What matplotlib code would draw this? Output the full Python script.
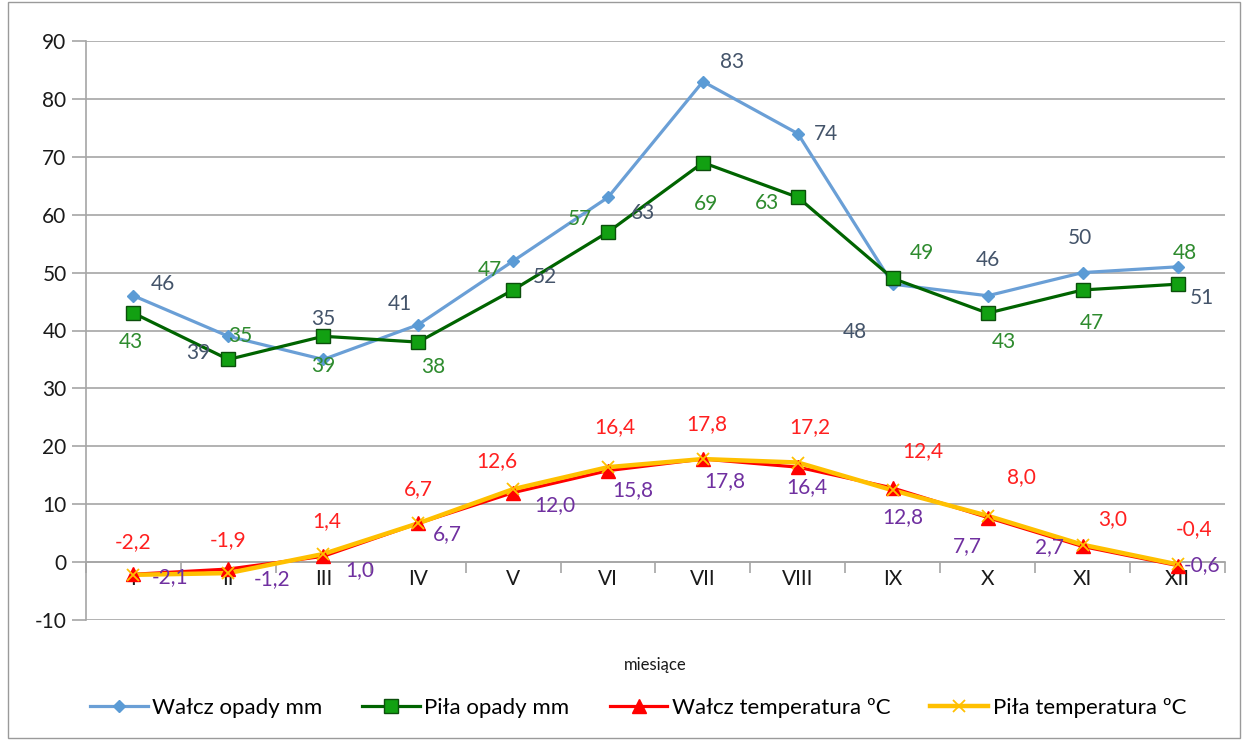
import matplotlib.pyplot as plt
from matplotlib.patches import Rectangle

plt.rcParams['font.family'] = ['Lato', 'DejaVu Sans']
plt.rcParams['axes.unicode_minus'] = False

# Data
months = ['I', 'II', 'III', 'IV', 'V', 'VI', 'VII', 'VIII', 'IX', 'X', 'XI', 'XII']
walcz_opady = [46, 39, 35, 41, 52, 63, 83, 74, 48, 46, 50, 51]
pila_opady = [43, 35, 39, 38, 47, 57, 69, 63, 49, 43, 47, 48]
walcz_temp = [-2.1, -1.2, 1.0, 6.7, 12.0, 15.8, 17.8, 16.4, 12.8, 7.7, 2.7, -0.6]
pila_temp = [-2.2, -1.9, 1.4, 6.7, 12.6, 16.4, 17.8, 17.2, 12.4, 8.0, 3.0, -0.4]

# label offsets in pixels (dx, dy down) as placed in the original chart
off_walcz_opady = [(29, -12), (-30, 17), (0, -40), (-18, -21), (32, 16), (35, 16),
                   (29, -20), (28, 0), (-38, 48), (0, -36), (-3, -35), (24, 31)]
off_pila_opady = [(-3, 29), (12, -23), (0, 30), (15, 25), (-23, -20), (-28, -13),
                  (3, 41), (-31, 6), (29, -25), (16, 29), (9, 33), (7, -31)]
off_pila_temp = [(0, -33), (0, -33), (3, -33), (0, -34), (-16, -28), (7, -40),
                 (4, -35), (12, -35), (30, -39), (34, -39), (30, -26), (17, -35)]
off_walcz_temp = [(37, 3), (44, 10), (36, 14), (29, 11), (42, 12), (25, 19),
                  (22, 22), (9, 20), (10, 29), (-20, 29), (-33, 1), (25, 0)]

x = list(range(1, 13))

fig = plt.figure(figsize=(12.45, 7.4), dpi=100)
ax = fig.add_axes([86 / 1245, 1 - 620 / 740, 1139 / 1245, 579 / 740])

# outer chart border
fig.patches.append(Rectangle((8 / 1245, 2 / 740), 1232 / 1245, 736 / 740,
                             transform=fig.transFigure, fill=False,
                             edgecolor='#9a9a9a', lw=1))

ax.plot(x, walcz_opady, color='#6A9FD6', lw=2.3, marker='D', ms=6,
        mfc='#5B9BD5', mec='#5B9BD5', label='Wałcz opady mm', zorder=3)
ax.plot(x, pila_opady, color='#006400', lw=2.3, marker='s', ms=10,
        mfc='#12A012', mec='#0B4F0B', mew=1, label='Piła opady mm', zorder=4)
ax.plot(x, walcz_temp, color='#FF0000', lw=2.3, label='_nolegend_', zorder=3)
ax.plot(x, pila_temp, color='#FFC000', lw=3.2, label='_nolegend_', zorder=4)
ax.plot(x, walcz_temp, ls='none', marker='^', ms=10, color='#FF0000', zorder=5)
ax.plot(x, pila_temp, ls='none', marker='x', ms=9, mew=1.3, color='#FFC000', zorder=6)

# proxies for legend
ax.plot([], [], color='#FF0000', lw=2.3, marker='^', ms=10, label='Wałcz temperatura ºC')
ax.plot([], [], color='#FFC000', lw=3.2, marker='x', ms=9, mew=1.3, label='Piła temperatura ºC')


def fmt(v):
    if isinstance(v, int):
        return str(v)
    return f'{v:.1f}'.replace('.', ',')


def put_labels(vals, offs, color):
    for xi, v, (dx, dy) in zip(x, vals, offs):
        ax.annotate(fmt(v), (xi, v), xytext=(dx, -dy), textcoords='offset pixels',
                    ha='center', va='center', fontsize=15, color=color, zorder=7)


put_labels(walcz_opady, off_walcz_opady, '#44546A')
put_labels(pila_opady, off_pila_opady, '#2E8B2E')
put_labels(pila_temp, off_pila_temp, '#FF2020')
put_labels(walcz_temp, off_walcz_temp, '#7030A0')

# axes styling
ax.set_xlim(0.5, 12.5)
ax.set_ylim(-10, 90)
ax.set_yticks(range(-10, 91, 10))
ax.grid(axis='y', color='#A6A6A6', lw=1.2)
ax.set_axisbelow(True)
for s in ['top', 'right']:
    ax.spines[s].set_visible(False)
ax.spines['left'].set_color('#A6A6A6')
ax.spines['left'].set_linewidth(1.2)
ax.spines['bottom'].set_position(('data', 0))
ax.spines['bottom'].set_color('#A6A6A6')
ax.spines['bottom'].set_linewidth(1.2)

ax.set_xticks(x)
ax.set_xticklabels(months)
ax.set_xticks([i + 0.5 for i in range(0, 13)], minor=True)
ax.tick_params(axis='x', which='major', length=0, pad=5, labelsize=15, labelcolor='#1a1a1a')
ax.tick_params(axis='x', which='minor', length=8, color='#A6A6A6', width=1.2)
ax.tick_params(axis='y', length=10, color='#A6A6A6', width=1.2, pad=4,
               labelsize=15, labelcolor='#1a1a1a')

fig.text(655 / 1245, 1 - 665 / 740, 'miesiące', ha='center', va='center',
         fontsize=12, color='#1a1a1a')

handles, labels = ax.get_legend_handles_labels()
fig.legend(handles, labels, loc='center', bbox_to_anchor=(638 / 1245, 1 - 708 / 740),
           ncol=4, frameon=False, fontsize=16, handlelength=2.6, handletextpad=0.2,
           columnspacing=1.8)

fig.savefig('out.png', dpi=100)
